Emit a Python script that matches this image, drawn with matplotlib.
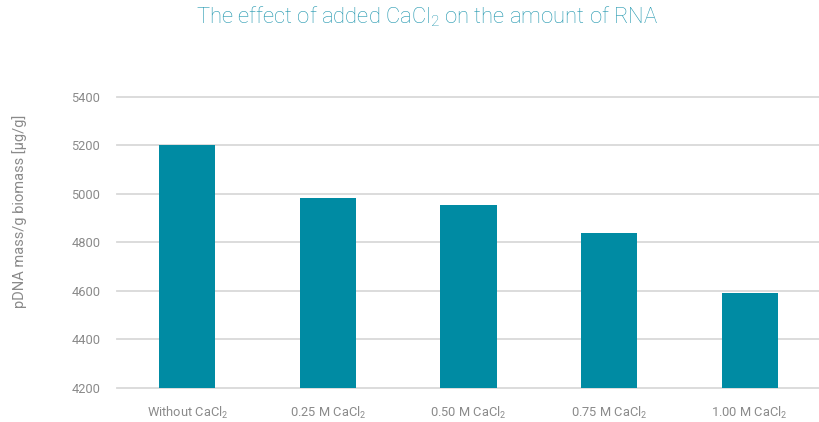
import matplotlib
matplotlib.use("Agg")
import matplotlib.pyplot as plt

plt.rcParams['font.family'] = ['Roboto', 'DejaVu Sans']
plt.rcParams['mathtext.fontset'] = 'custom'
plt.rcParams['mathtext.rm'] = 'Roboto'
plt.rcParams['mathtext.it'] = 'Roboto'
plt.rcParams['mathtext.default'] = 'regular'

categories = ["Without CaCl$_2$", "0.25 M CaCl$_2$", "0.50 M CaCl$_2$",
              "0.75 M CaCl$_2$", "1.00 M CaCl$_2$"]
values = [5200, 4983, 4952, 4837, 4590]
yticks = [4200, 4400, 4600, 4800, 5000, 5200, 5400]

bar_color = "#008BA3"
title_color = "#1F96AE"
text_color = "#8A8A8A"
grid_color = "#D9D9D9"

fig = plt.figure(figsize=(8.2, 4.22), dpi=100)
ax = fig.add_axes([117 / 820, 1 - 388 / 422, 1 - 117 / 820, (388 - 96.7) / 422])

x = range(len(categories))
ax.bar(x, values, width=0.4, color=bar_color, zorder=3)

ax.set_xlim(-0.5, len(categories) - 0.5)
ax.set_ylim(4200, 5400)
ax.set_yticks(yticks)
ax.set_xticks(list(x))
ax.set_xticklabels(categories)

for y in yticks:
    ax.axhline(y, color=grid_color, lw=1.3, zorder=1, clip_on=False)

for s in ax.spines.values():
    s.set_visible(False)
ax.tick_params(axis='both', length=0, colors=text_color, labelsize=9.3)
ax.tick_params(axis='y', pad=12)
ax.tick_params(axis='x', pad=12)

fig.text(20 / 820, 1 - 211 / 422, "pDNA mass/g biomass [µg/g]", rotation=90,
         ha='center', va='center', color=text_color, fontsize=10.5)

fig.text(427 / 820, 1 - 17 / 422, "The effect of added CaCl$_2$ on the amount of RNA",
         ha='center', va='center', color=title_color, fontsize=15.8, fontweight='light')

fig.savefig("out.png", dpi=100)
